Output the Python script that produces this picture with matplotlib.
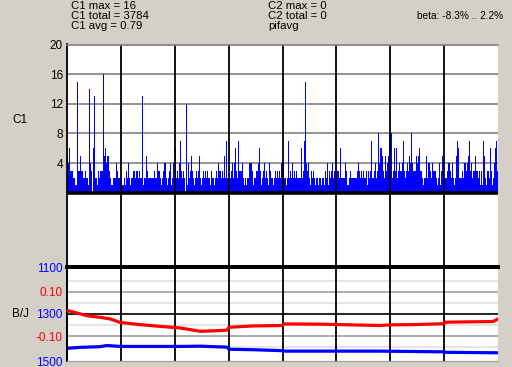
import numpy as np
import matplotlib
matplotlib.use('Agg')
import matplotlib.pyplot as plt

plt.rcParams['font.family'] = ['Liberation Sans', 'DejaVu Sans']

# C1 counts, one value per screen column (431 columns)
c1_vals = [
    5, 4, 6, 3, 3, 3, 2, 2, 1, 1,
    15, 3, 3, 5, 3, 3, 2, 2, 3, 2,
    2, 1, 14, 4, 3, 0, 6, 13, 2, 2,
    1, 3, 2, 3, 3, 3, 16, 5, 6, 4,
    5, 5, 3, 2, 1, 1, 2, 2, 2, 4,
    3, 2, 2, 2, 2, 1, 1, 2, 1, 3,
    2, 4, 2, 1, 2, 2, 3, 3, 2, 3,
    3, 2, 3, 2, 2, 13, 1, 2, 2, 5,
    3, 2, 2, 2, 2, 2, 2,
    3, 2, 2, 4, 3, 3, 2, 1, 2, 3,
    4, 4, 2, 1, 2, 3, 4, 1, 2, 4,
    2, 6, 2, 3, 2, 4, 7, 3, 2, 3,
    2, 0, 12, 1, 4, 2, 3, 5, 3, 2,
    1, 2, 3, 2, 3, 5, 2, 1, 2, 3,
    2, 3, 2, 3, 2, 2, 1, 3, 2, 2,
    1, 2, 3, 2, 4, 3, 3, 2, 3, 2,
    5, 2, 7, 2, 2, 1, 2, 3, 4, 2,
    4, 6, 3, 2, 7, 3,
    3, 3, 4, 2, 1, 2, 1, 2, 2, 4,
    4, 4, 3, 1, 2, 2, 3, 3, 4, 6,
    3, 1, 2, 3, 4, 2, 3, 2, 1, 4,
    3, 2, 2, 1, 2, 3, 2, 3, 2, 3,
    2, 4, 4, 4, 2, 2, 1, 2, 7, 2,
    3, 2, 4, 2, 3, 2, 3, 2, 2, 2,
    2, 6, 2, 3, 7, 15, 4, 3, 4, 2,
    1, 3, 2, 3, 2, 1, 2, 2, 1, 2,
    2, 1, 2, 2, 1, 3, 2,
    4, 1, 3, 2, 3, 4, 2, 3, 2, 2,
    3, 3, 2, 6, 2, 2, 2, 2, 4, 3,
    1, 1, 2, 3, 2, 2, 2, 2, 2, 2,
    3, 4, 3, 2, 3, 2, 3, 2, 2, 3,
    1, 3, 2, 3, 7, 2, 2, 3, 4, 2,
    3, 8, 4, 6, 6, 5, 3, 2, 5, 3,
    4, 5, 8, 8, 8, 2, 3, 6, 3, 6,
    2, 3, 4, 3, 3, 4, 7, 3, 2, 3,
    4, 3, 5, 4, 8, 4, 3,
    3, 3, 5, 4, 5, 6, 3, 3, 2, 1,
    2, 2, 5, 2, 4, 4, 3, 2, 4, 3,
    3, 3, 2, 1, 2, 4, 1, 3, 5, 3,
    2, 2, 2, 3, 4, 4, 3, 2, 4, 2,
    1, 2, 5, 7, 6, 2, 2, 2, 3, 2,
    4, 4, 3, 4, 5, 7, 3, 4, 2, 3,
    3, 5, 3, 3, 2, 3, 1, 3, 1, 7,
    5, 2, 1, 3, 3, 2, 6, 3, 1, 2,
    4, 6, 7, 3,
]

# B/J lower panel: positions (in columns) and values
red_x = [0, 13, 20, 33, 43, 53, 73, 93, 113, 133, 148, 160, 162, 186, 215, 217,
         253, 283, 313, 323, 346, 376, 379, 426, 430]
red_y = [0.016, 0.001, -0.008, -0.015, -0.022, -0.038, -0.048, -0.056, -0.063,
         -0.078, -0.076, -0.073, -0.060, -0.054, -0.052, -0.045, -0.046, -0.049,
         -0.052, -0.049, -0.048, -0.044, -0.037, -0.034, -0.025]
blue_x = [0, 13, 33, 40, 53, 113, 133, 160, 162, 186, 215, 217, 253, 313, 376, 379, 430]
blue_y = [1446, 1442, 1439, 1434, 1438, 1438, 1437, 1441, 1450, 1452, 1456, 1458,
          1458, 1458, 1461, 1463, 1465]

header_left = ['C1 max = 16', 'C1 total = 3784', 'C1 avg = 0.79']
header_mid = ['C2 max = 0', 'C2 total = 0', 'pifavg']
beta_text = 'beta: -8.3% .. 2.2%'

W, H = 512, 367
bg = '#d4d0c8'
n = len(c1_vals)
vlines = [n * k / 8 for k in range(1, 8)]

fig = plt.figure(figsize=(W / 100, H / 100), dpi=100, facecolor=bg)

# upper panel
ax1 = fig.add_axes([67 / W, 1 - 267 / H, 431 / W, 222.5 / H])
ax1.stairs(c1_vals, np.arange(n + 1), fill=True, color='#0000ff', lw=0)
ax1.set_xlim(0, n)
ax1.set_ylim(-10, 20)
for v in [4, 8, 12, 16]:
    ax1.axhline(v, color='#808080', lw=1.2, zorder=0.5)
ax1.axhline(0, color='black', lw=2.6, zorder=3)
for v in vlines:
    ax1.axvline(v, color='black', lw=1.3, zorder=2.5)
ax1.set_yticks([4, 8, 12, 16, 20], ['4', '8', '12', '16', '20'])
ax1.set_xticks([])
ax1.tick_params(axis='y', length=0, pad=3, labelsize=8.5)
ax1.spines['right'].set_visible(False)
ax1.spines['top'].set_color('#808080')
ax1.spines['top'].set_linewidth(1.2)
ax1.spines['left'].set_linewidth(1.3)
ax1.spines['bottom'].set_linewidth(2.6)

# lower panel
ax2 = fig.add_axes([67 / W, 1 - 361 / H, 431 / W, 94 / H])
ax2.set_xlim(0, n)
ax2.set_ylim(1500, 1100)
ax2.set_yticks([1100, 1300, 1500], ['1100', '1300', '1500'])
ax2.tick_params(axis='y', length=0, pad=3, labelsize=8.5, labelcolor='#0000ff')
ax2.set_xticks([])

ax2r = ax2.twinx()
ax2r.set_ylim(-0.2125, 0.2125)
ax2r.yaxis.tick_left()
ax2r.set_yticks([0.10, -0.10], ['0.10', '-0.10'])
ax2r.tick_params(axis='y', length=0, pad=3, labelsize=8.5, labelcolor='#ff0000')
for v in [0.15, 0.05, -0.05, -0.15]:
    ax2r.axhline(v, color='#e0e0e0', lw=1.2, zorder=0.5)
for v in [0.10, -0.10]:
    ax2r.axhline(v, color='#a0a0a0', lw=1.2, zorder=0.5)
ax2r.axhline(0, color='black', lw=1.2, zorder=0.6)
for v in vlines:
    ax2r.axvline(v, color='black', lw=1.3, zorder=0.7)
ax2r.plot(blue_x, blue_y, color='#0000ff', lw=2.3, transform=ax2.transData, zorder=2)
ax2r.plot(red_x, red_y, color='#ff0000', lw=2.3, zorder=3)

for a in (ax2, ax2r):
    a.spines['right'].set_visible(False)
    a.spines['top'].set_linewidth(2.6)
    a.spines['left'].set_linewidth(1.3)
    a.spines['bottom'].set_color('#a0a0a0')

# header and side labels
for i, t in enumerate(header_left):
    fig.text(71 / W, 1 - (6 + 10 * i) / H, t, fontsize=8.2, va='center')
for i, t in enumerate(header_mid):
    fig.text(268 / W, 1 - (6 + 10 * i) / H, t, fontsize=8.2, va='center')
fig.text(503 / W, 1 - 16 / H, beta_text, fontsize=7.3, va='center', ha='right')
fig.text(12 / W, 1 - 120 / H, 'C1', fontsize=8.5, va='center')
fig.text(12 / W, 1 - 314 / H, 'B/J', fontsize=8.5, va='center')

fig.savefig('out.png', dpi=100, facecolor=bg)
